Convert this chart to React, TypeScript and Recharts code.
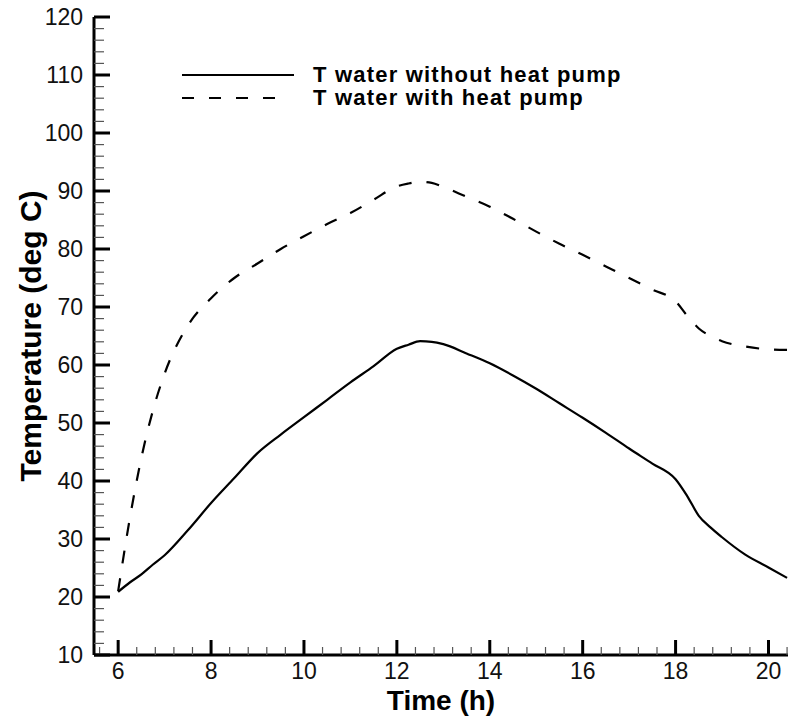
import { Legend, Line, LineChart, XAxis, YAxis } from 'recharts';

const hours = [
  6, 6.25, 6.5, 6.75, 7, 7.5, 8, 8.5, 9, 9.5, 10, 10.5, 11, 11.5, 12, 12.25, 12.5, 12.75, 13, 13.5,
  14, 14.5, 15, 15.5, 16, 16.5, 17, 17.5, 18, 18.25, 18.5, 18.75, 19, 19.5, 20, 20.4,
];

const withoutHeatPump = [
  20.9, 22.5, 23.9, 25.6, 27.2, 31.5, 36.2, 40.5, 44.8, 48.0, 51.0, 54.0, 57.0, 59.8, 62.8, 63.5,
  64.1, 64.0, 63.6, 62.0, 60.3, 58.2, 55.9, 53.4, 50.9, 48.3, 45.6, 43.0, 40.3, 37.4, 34.0, 32.0,
  30.3, 27.3, 25.1, 23.3,
];

const withHeatPump = [
  21.0, 33.5, 44.0, 52.2, 58.5, 66.8, 71.5, 75.0, 77.5, 80.0, 82.2, 84.3, 86.2, 88.5, 90.8, 91.3,
  91.6, 91.4, 90.7, 89.0, 87.3, 85.2, 83.0, 80.9, 79.0, 77.0, 75.0, 73.0, 71.0, 68.5, 66.3, 65.0,
  64.1, 63.2, 62.7, 62.6,
];

const xMajor = [6, 8, 10, 12, 14, 16, 18, 20];
const yMajor = [10, 20, 30, 40, 50, 60, 70, 80, 90, 100, 110, 120];

// minor ticks every 0.4 h and every 2 deg
const xTicks: number[] = [];
for (let i = 0; i <= 37; i++) xTicks.push(Math.round((5.6 + i * 0.4) * 10) / 10);
const yTicks: number[] = [];
for (let v = 10; v <= 120; v += 2) yTicks.push(v);

const data = hours.map((h, i) => ({
  h,
  without: withoutHeatPump[i],
  with: withHeatPump[i],
}));

const FONT = '"Liberation Sans", Arial, sans-serif';

const XTick = (props: any) => {
  const { x, y, payload } = props;
  const major = xMajor.includes(payload.value);
  return (
    <g>
      <line
        x1={x}
        x2={x}
        y1={y}
        y2={y - (major ? 15 : 8)}
        stroke={major ? '#000' : '#555'}
        strokeWidth={major ? 3 : 1.2}
      />
      {major && (
        <text x={x} y={y + 24} textAnchor="middle" fontSize={23} fontFamily={FONT} fill="#111">
          {payload.value}
        </text>
      )}
    </g>
  );
};

const YTick = (props: any) => {
  const { x, y, payload } = props;
  const major = yMajor.includes(payload.value);
  return (
    <g>
      <line
        x1={x}
        x2={x + (major ? 16 : 10)}
        y1={y}
        y2={y}
        stroke={major ? '#000' : '#555'}
        strokeWidth={major ? 3 : 1.2}
      />
      {major && (
        <text x={x - 11} y={y + 8} textAnchor="end" fontSize={23} fontFamily={FONT} fill="#111">
          {payload.value}
        </text>
      )}
    </g>
  );
};

const renderLegend = () => (
  <svg width={470} height={60} style={{ overflow: 'visible' }}>
    <line x1={2} x2={114} y1={13} y2={13} stroke="#000" strokeWidth={2.2} />
    <line x1={2} x2={95} y1={36} y2={36} stroke="#000" strokeWidth={2.2} strokeDasharray="12 15" />
    <text x={133} y={20} fontSize={22} fontWeight="bold" fontFamily={FONT} letterSpacing={1.2}>
      T water without heat pump
    </text>
    <text x={133} y={43} fontSize={22} fontWeight="bold" fontFamily={FONT} letterSpacing={1.2}>
      T water with heat pump
    </text>
  </svg>
);

export default function App() {
  return (
    <div style={{ position: 'absolute', left: 0, top: 0, background: '#fff' }}>
      <LineChart width={788} height={717} data={data} margin={{ top: 17, right: 0, bottom: 0, left: 0 }}>
        <XAxis
          dataKey="h"
          type="number"
          domain={[5.48, 20.42]}
          ticks={xTicks}
          interval={0}
          height={62}
          tickSize={0}
          tickMargin={0}
          tick={XTick}
          axisLine={{ stroke: '#000', strokeWidth: 3 }}
          label={({ viewBox }: any) => (
            <text
              x={viewBox.x + viewBox.width / 2}
              y={viewBox.y + 55}
              textAnchor="middle"
              fontSize={28}
              fontWeight="bold"
              fontFamily={FONT}
            >
              Time (h)
            </text>
          )}
        />
        <YAxis
          type="number"
          domain={[10, 120]}
          ticks={yTicks}
          interval={0}
          width={94}
          tickSize={0}
          tickMargin={0}
          tick={YTick}
          axisLine={{ stroke: '#000', strokeWidth: 3 }}
          label={({ viewBox }: any) => (
            <text
              x={30}
              y={viewBox.y + viewBox.height / 2}
              textAnchor="middle"
              dominantBaseline="central"
              transform={`rotate(-90, 30, ${viewBox.y + viewBox.height / 2})`}
              fontSize={30}
              fontWeight="bold"
              fontFamily={FONT}
            >
              Temperature (deg C)
            </text>
          )}
        />
        <Legend
          content={renderLegend}
          wrapperStyle={{ left: 180, top: 62, width: 470, height: 0, overflow: 'visible' }}
        />
        <Line
          type="monotone"
          dataKey="without"
          stroke="#000"
          strokeWidth={2.2}
          dot={false}
          isAnimationActive={false}
        />
        <Line
          type="monotone"
          dataKey="with"
          stroke="#000"
          strokeWidth={2.2}
          strokeDasharray="13 15"
          dot={false}
          isAnimationActive={false}
        />
      </LineChart>
    </div>
  );
}
